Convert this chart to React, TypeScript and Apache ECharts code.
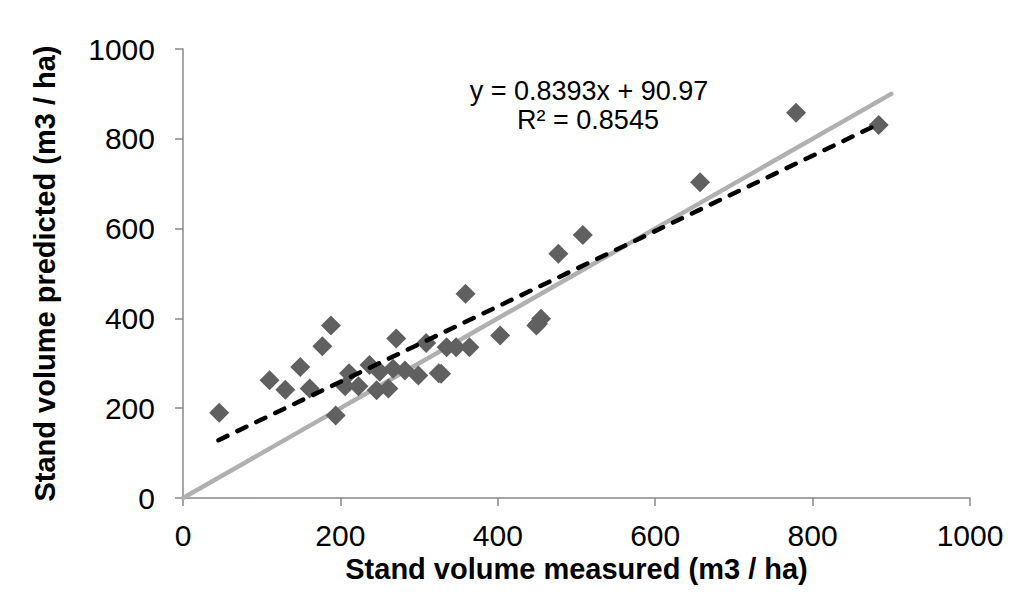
import React, { useEffect, useRef } from "react";
import * as echarts from "echarts";

const measured = [46, 110, 130, 149, 161, 177, 188, 194, 206, 211, 223, 237, 246, 250, 261, 267, 271, 282, 299, 309, 325, 328, 335, 347, 359, 364, 403, 449, 451, 455, 477, 508, 657, 779, 884];
const predicted = [190, 262, 241, 292, 244, 338, 384, 184, 249, 278, 249, 296, 240, 281, 244, 288, 355, 284, 273, 345, 278, 277, 336, 336, 455, 336, 362, 384, 388, 399, 544, 586, 703, 858, 831];
const oneToOneX = [0, 900];
const oneToOneY = [0, 900];
const trendX = [45, 884];
const trendY = [128.7, 832.9];
const xTicks = [0, 200, 400, 600, 800, 1000];
const yTicks = [0, 200, 400, 600, 800, 1000];
const equationText = "y = 0.8393x + 90.97";
const r2Text = "R² = 0.8545";

export default function App() {
  const ref = useRef<HTMLDivElement>(null);
  useEffect(() => {
    if (!ref.current) return;
    const chart = echarts.init(ref.current, undefined, { renderer: "svg" });
    const font = "'Liberation Sans', Arial, sans-serif";
    const axisCommon = {
      interval: 200,
      axisLine: { show: true, lineStyle: { color: "#888888", width: 1.5 } },
      axisTick: { show: true, length: 8, lineStyle: { color: "#888888", width: 1.5 } },
      splitLine: { show: false },
      nameLocation: "middle" as const,
      nameTextStyle: { fontFamily: font, fontWeight: "bold" as const, fontSize: 29, color: "#000" },
    };
    chart.setOption({
      animation: false,
      backgroundColor: "#ffffff",
      grid: { left: 183, right: 45, top: 49, bottom: 102 },
      xAxis: {
        ...axisCommon,
        type: "value",
        min: xTicks[0],
        max: xTicks[xTicks.length - 1],
        name: "Stand volume measured (m3 / ha)",
        nameGap: 53,
        axisLabel: { fontFamily: font, fontSize: 30, color: "#000", margin: 22, formatter: (v: number) => String(v) },
      },
      yAxis: {
        ...axisCommon,
        type: "value",
        min: yTicks[0],
        max: yTicks[yTicks.length - 1],
        name: "Stand volume predicted (m3 / ha)",
        nameGap: 124,
        axisLabel: { fontFamily: font, fontSize: 30, color: "#000", margin: 28, formatter: (v: number) => String(v) },
      },
      series: [
        {
          type: "line",
          data: oneToOneX.map((x, i) => [x, oneToOneY[i]]),
          showSymbol: false,
          symbol: "none",
          lineStyle: { color: "#b0b0b0", width: 4.5, cap: "round" },
          z: 1,
        },
        {
          type: "scatter",
          data: measured.map((x, i) => [x, predicted[i]]),
          symbol: "diamond",
          symbolSize: 20,
          itemStyle: { color: "#606060", opacity: 1 },
          z: 2,
        },
        {
          type: "line",
          data: trendX.map((x, i) => [x, trendY[i]]),
          showSymbol: false,
          symbol: "none",
          lineStyle: { color: "#000000", width: 4.5, type: [10, 11], cap: "round" },
          z: 3,
        },
      ],
      graphic: [
        {
          type: "text",
          x: 589,
          y: 91,
          style: { text: equationText, fontFamily: font, fontSize: 27, fill: "#000", textAlign: "center", textVerticalAlign: "middle" },
        },
        {
          type: "text",
          x: 588,
          y: 120,
          style: { text: r2Text, fontFamily: font, fontSize: 27, fill: "#000", textAlign: "center", textVerticalAlign: "middle" },
        },
      ],
    });
    return () => chart.dispose();
  }, []);
  return <div ref={ref} style={{ width: 1015, height: 600, position: "absolute", left: 0, top: 0 }} />;
}
